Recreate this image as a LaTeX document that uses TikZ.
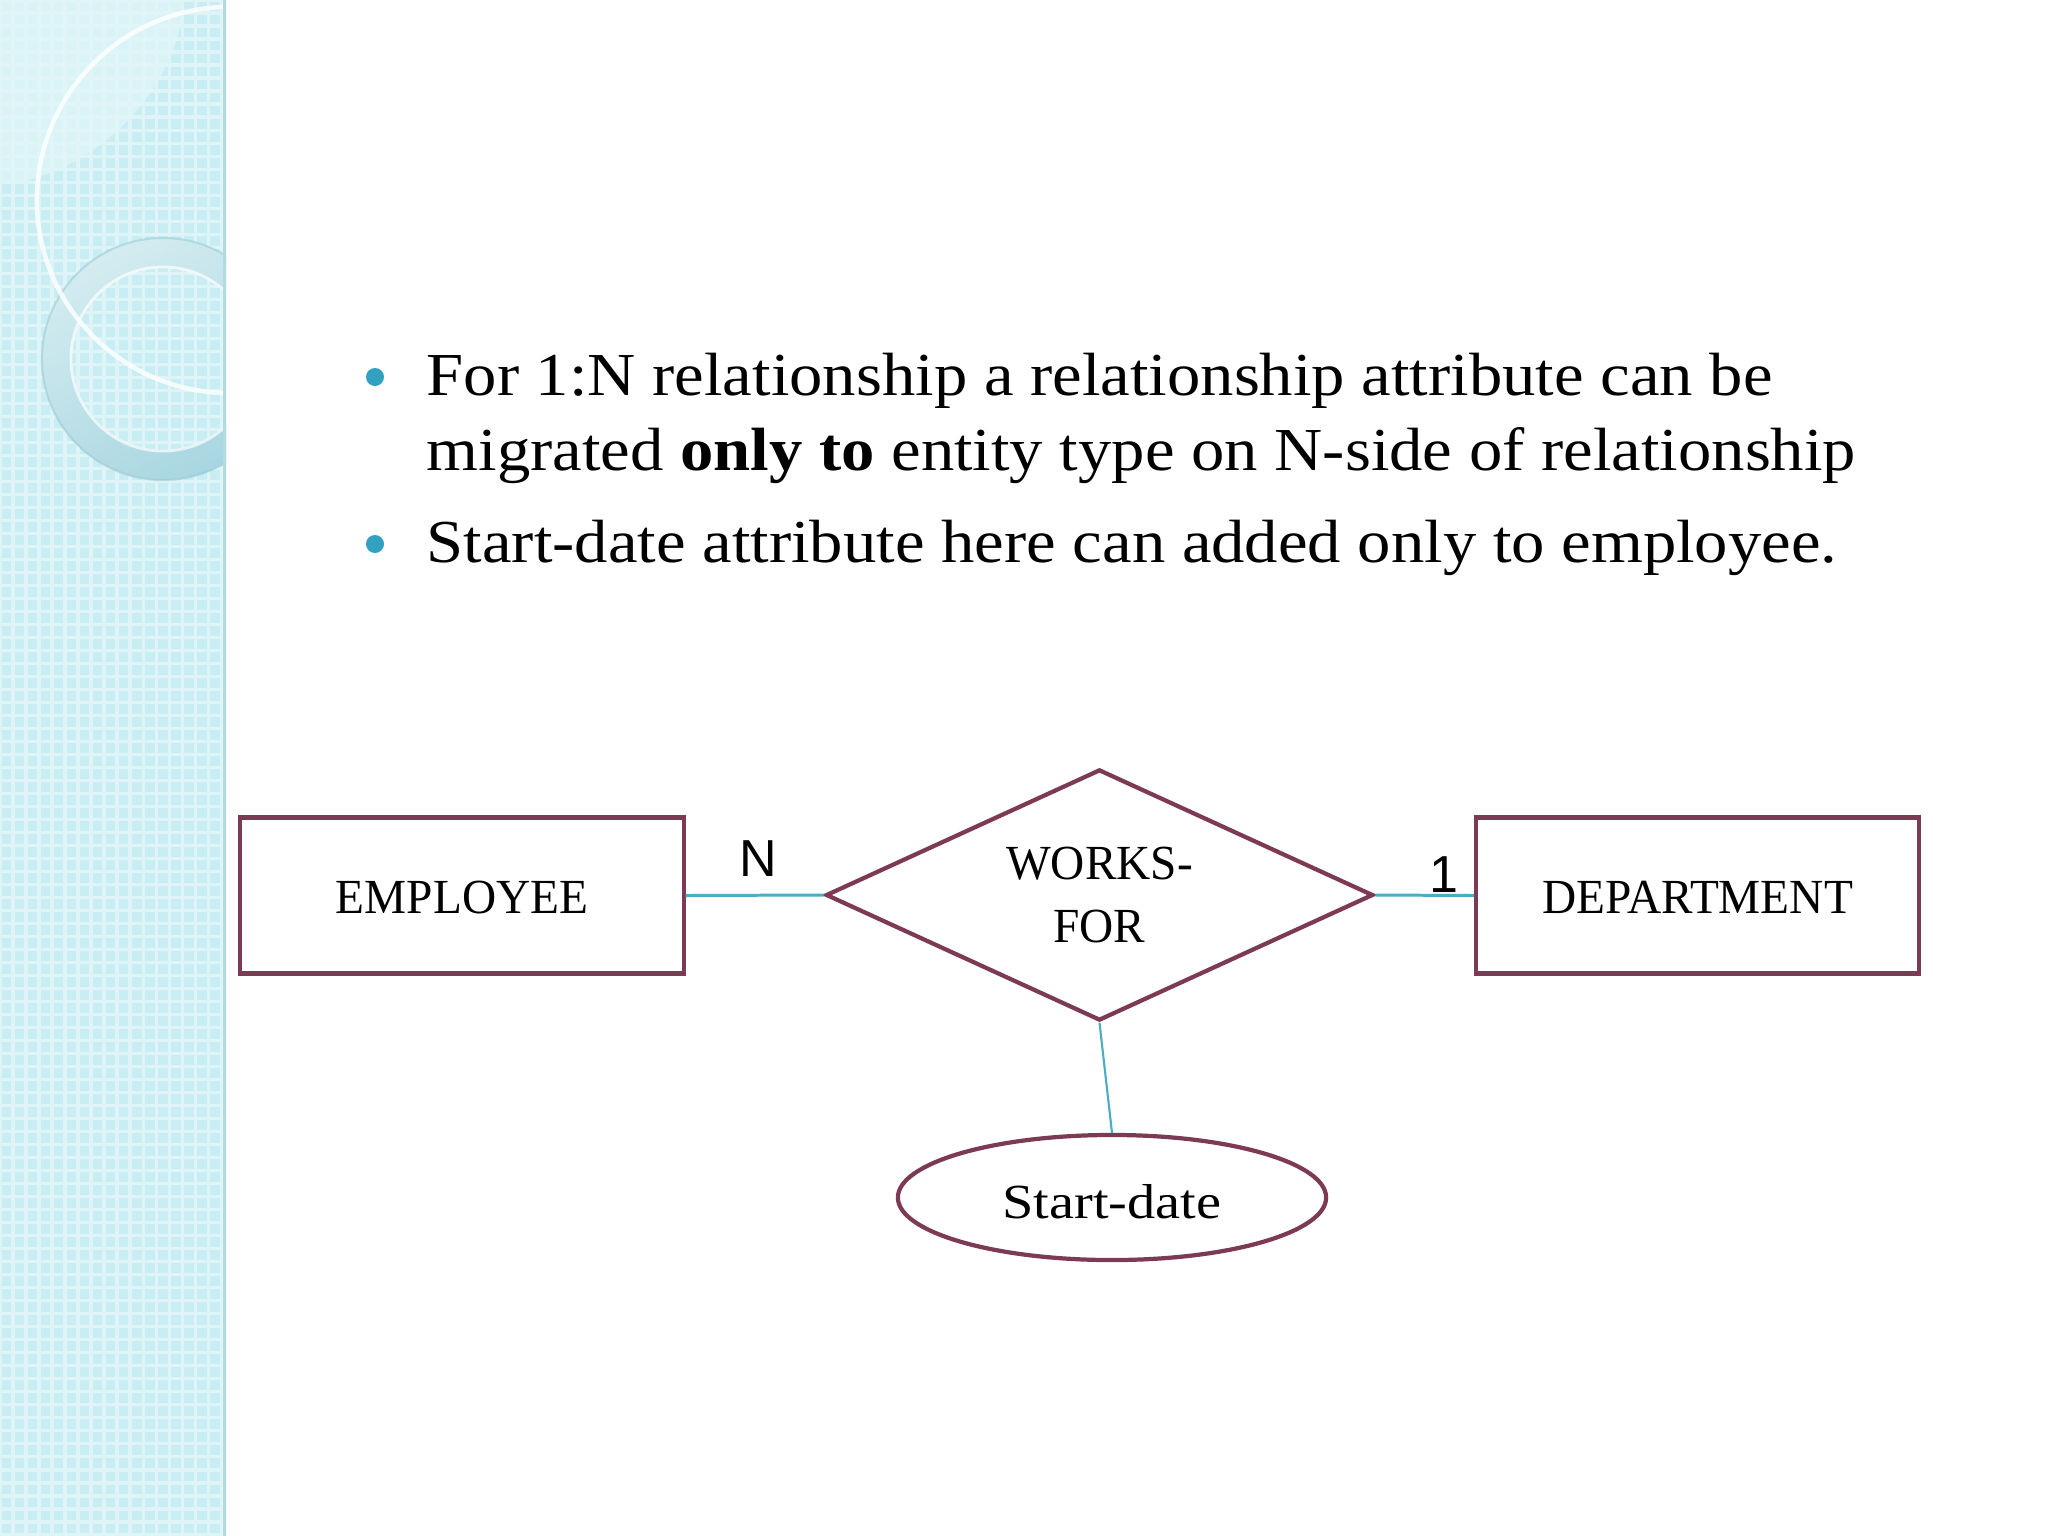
\documentclass[tikz,border=0pt]{standalone}
\usepackage{fontspec}
\setmainfont[FakeStretch=1.092]{Liberation Serif}
\newfontfamily\capfont[FakeStretch=0.965]{Liberation Serif}
\newfontfamily\lowfont[FakeStretch=1.15]{Liberation Serif}
\newfontfamily\arialfont{Liberation Sans}
\usetikzlibrary{shapes.geometric}
\definecolor{erc}{RGB}{125,58,84}
\definecolor{linkc}{RGB}{75,172,198}
\definecolor{bulc}{RGB}{50,160,192}
\definecolor{panelc}{RGB}{200,237,243}
\definecolor{panellight}{RGB}{224,246,249}
\definecolor{ringtop}{RGB}{212,236,240}
\definecolor{ringbot}{RGB}{168,214,225}
\definecolor{ringedge}{RGB}{150,200,212}
\definecolor{edgec}{RGB}{178,218,226}
\tikzset{
  maintext/.style={font=\fontsize{17.36pt}{21pt}\selectfont, inner sep=0pt},
  entity/.style={draw=erc, line width=1.2pt, fill=white, minimum width=4.43cm, minimum height=1.56cm, inner sep=0pt, text height=10.5pt, text depth=0pt, font=\capfont\fontsize{13.94pt}{17.1pt}\selectfont},
  relbox/.style={diamond, draw=erc, line width=1.2pt, fill=white, minimum width=5.47cm, minimum height=2.51cm, aspect=2.16, inner sep=0pt, align=center, font=\capfont\fontsize{13.94pt}{17.1pt}\selectfont},
  attrib/.style={ellipse, draw=erc, line width=1.2pt, fill=white, minimum width=4.28cm, minimum height=1.25cm, inner sep=0pt, text height=12.2pt, text depth=0pt, font=\lowfont\fontsize{13.94pt}{17.1pt}\selectfont},
  link/.style={draw=linkc, line width=0.85pt},
  thinlink/.style={draw=linkc, line width=0.6pt},
  cardlabel/.style={font=\arialfont\fontsize{14.8pt}{17pt}\selectfont, inner sep=0pt, anchor=base}
}
\begin{document}
\begin{tikzpicture}[x=0.01cm, y=-0.01cm]
\useasboundingbox (0,0) rectangle (2048,1536);
\fill[white] (0,0) rectangle (2048,1536);
% left decorative panel
\fill[panelc] (0,0) rectangle (226,1536);
\begin{scope}
  \clip (0,0) rectangle (226,1536);
  \draw[white, opacity=0.4, line width=0.9pt, step=0.13cm] (0,0) grid (226,1536);
  \begin{scope}
    \clip (-30,-30) circle[radius=2.18cm];
    \fill[panellight, opacity=0.75] (0,0) rectangle (183,182);
  \end{scope}
  \shade[top color=ringtop, bottom color=ringbot, shading angle=30, even odd rule] (163,359) circle[radius=1.21cm] (163,359) circle[radius=0.91cm];
  \draw[ringedge, opacity=0.5, line width=0.6pt] (163,359) circle[radius=1.21cm];
  \draw[white, opacity=0.7, line width=0.8pt] (163,359) circle[radius=0.92cm];
  \draw[white, opacity=0.8, line width=1.3pt] (230,200) circle[radius=1.93cm];
  \draw[edgec, line width=1pt] (225,0) -- (225,1536);
\end{scope}
% bullets and text
\fill[bulc] (375,377) circle[radius=0.09cm];
\fill[bulc] (375,544) circle[radius=0.09cm];
\node[maintext, anchor=base west] (l1) at (426,395) {For 1:N relationship a relationship attribute can be};
\node[maintext, anchor=base west] (l2) at (426,470) {migrated \textbf{only to} entity type on N-side of relationship};
\node[maintext, anchor=base west] (l3) at (426,562) {Start-date attribute here can added only to employee.};
% ER diagram
\node[entity] (emp) at (462,895.5) {EMPLOYEE};
\node[entity] (dep) at (1697.5,895.5) {DEPARTMENT};
\node[relbox] (rel) at (1099.5,895) {WORKS-\\[1pt]FOR};
\node[attrib] (att) at (1112,1197.5) {Start-date};
\draw[link] (emp.east) -- (rel.west);
\draw[link] (rel.east) -- (dep.west);
\draw[thinlink] (rel.south) -- (att.north);
\node[cardlabel] (nlab) at (758,876) {N};
\node[cardlabel] (onelab) at (1444,892) {1};
\end{tikzpicture}
\end{document}
